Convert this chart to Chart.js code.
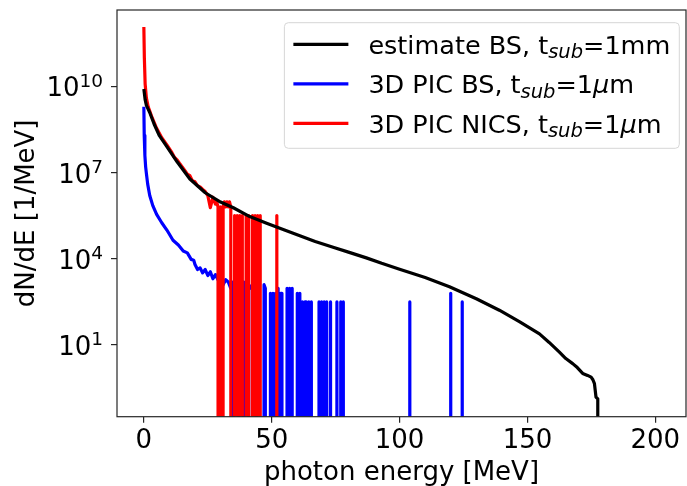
<!DOCTYPE html>
<html>
<head>
<meta charset="utf-8">
<script src="https://cdn.jsdelivr.net/npm/chart.js@4.4.0/dist/chart.umd.min.js"></script>
<style>
  html, body { margin: 0; padding: 0; background: #fff; }
</style>
</head>
<body>
<canvas id="chartCanvas" width="687" height="486"></canvas>
<script>
// values (dN/dE in 1/MeV, 0 = empty bin)
const xTicks = [0, 50, 100, 150, 200];
const yTicks = [1e1, 1e4, 1e7, 1e10];

const seriesLabels = [
  'estimate BS, t$_{sub}$=1mm',
  '3D PIC BS, t$_{sub}$=1$\\mu$m',
  '3D PIC NICS, t$_{sub}$=1$\\mu$m'
];
const seriesColors = ['#000000', '#0000ff', '#ff0000'];

const estE = [0, 0.5, 1, 2.3, 4, 6, 9, 13, 18, 24, 30, 35, 41.4, 48, 55, 61, 67, 74, 80, 87, 93, 100,
  110, 119.5, 130, 139, 147, 154.7, 158.5, 162.5, 165, 167.7, 169.5, 171.6, 173.5, 174.9, 175.6,
  176.2, 176.8, 177.5, 177.8];
const estN = [8.3e9, 3.55e9, 2.24e9, 1.26e9, 5.0e8, 2.0e8, 8.1e7, 2.4e7, 6.0e6, 2.0e6, 9.5e5, 6.0e5,
  2.95e5, 1.74e5, 1.0e5, 6.3e4, 4.0e4, 2.5e4, 1.7e4, 1.07e4, 6.9e3, 4.3e3,
  2.2e3, 1.05e3, 400, 160, 63, 24, 12, 5.5, 3.3, 2.2, 1.6, 1.0, 0.85, 0.74, 0.6,
  0.44, 0.15, 0.13, 0];

const bsE = [0, 0.15, 0.4, 0.7, 1, 1.5, 2.3, 3.5, 5, 7, 9, 11.4, 13.5, 15.4, 17, 18.5, 19.5,
  20, 21, 22, 23, 24, 25, 26, 27, 28, 29, 30, 31, 32, 33, 34, 35, 36, 37, 38, 39,
  40, 41, 42, 43, 44, 45, 46,
  46.5, 47, 47.5, 48, 48.5, 49, 49.5, 50, 50.5, 51,
  51.5, 52, 52.5, 53, 53.5, 54, 54.5, 55, 55.5, 56,
  56.5, 57, 57.5, 58, 58.5, 59, 59.5, 60, 60.5, 61,
  61.5, 62, 62.5, 63, 63.5, 64, 64.5, 65, 65.5, 66,
  66.5, 67, 67.5, 68, 68.5, 69, 69.5, 70, 70.5, 71,
  71.5, 72, 72.5, 73, 73.5, 74, 74.5, 75, 75.5, 76,
  76.5, 77, 77.5, 78, 78.5,
  103.5, 104, 104.5, 119.5, 120, 120.5, 124, 124.5, 125];
const bsN = [2.0e9, 2.0e8, 4.0e7, 1.6e7, 9.3e6, 4.0e6, 1.6e6, 7.1e5, 3.5e5, 1.8e5, 1.0e5, 4.4e4, 3.0e4, 1.86e4, 1.6e4, 9.5e3, 8.9e3,
  6.3e3, 4.2e3, 4.8e3, 3.2e3, 4.2e3, 2.6e3, 3.5e3, 2.0e3, 2.8e3, 1.86e3, 2.48e3, 1.24e3, 1.86e3, 1.55e3, 930, 1550, 0, 1240, 930, 1550,
  0, 1240, 930, 1240, 620, 0, 0,
  0, 1240, 930, 0, 0, 0, 620, 0, 620, 0,
  620, 0, 930, 0, 620, 620, 0, 0, 0, 930,
  0, 930, 0, 930, 0, 0, 0, 620, 0, 620,
  0, 310, 0, 310, 310, 0, 310, 0, 310, 0,
  0, 0, 0, 0, 310, 0, 310, 0, 310, 0,
  310, 0, 0, 310, 0, 0, 0, 0, 310, 0,
  0, 310, 0, 310, 0,
  0, 310, 0, 0, 620, 0, 0, 310, 0];

const nicsE = [0, 0.2, 0.5, 1, 1.7, 3, 4.9, 7, 9, 11, 12, 13, 14, 15, 16, 17, 18, 19,
  20, 21, 22, 23, 24, 25, 26, 27, 28,
  28.5, 29, 29.5, 30, 30.5, 31, 31.5, 32, 32.5, 33, 33.5, 34,
  34.5, 35, 35.5, 36, 36.5, 37, 37.5, 38, 38.5, 39, 39.5, 40,
  40.5, 41, 41.5, 42, 42.5, 43, 43.5, 44, 44.5, 45, 45.5, 46,
  51.5, 52, 52.5];
const nicsN = [1.2e12, 1.0e11, 1.26e10, 4.0e9, 2.0e9, 9.5e8, 3.7e8, 1.66e8, 9.3e7, 5.0e7, 3.4e7, 2.8e7, 2.1e7, 1.6e7, 1.2e7, 8.9e6, 7.9e6, 5.2e6,
  4.8e6, 3.5e6, 3.2e6, 2.6e6, 2.2e6, 1.6e6, 6.0e5, 1.4e6, 8.0e5,
  9.6e5, 6.4e5, 0, 6.4e5, 0, 6.4e5, 9.6e5, 6.4e5, 9.6e5, 6.4e5, 9.6e5, 6.4e5,
  0, 0, 3.2e5, 0, 3.2e5, 0, 3.2e5, 0, 3.2e5, 0, 0, 3.2e5,
  0, 3.2e5, 0, 0, 3.2e5, 0, 3.2e5, 0, 3.2e5, 0, 3.2e5, 0,
  0, 3.2e5, 0];

const FONT = '"DejaVu Sans", sans-serif';
const LOG_FLOOR = 1e-200; // empty bins drop far below the axis, as matplotlib clips them

function toPoints(es, ns) {
  return es.map((e, i) => ({ x: e, y: ns[i] > 0 ? ns[i] : LOG_FLOOR }));
}

// split a matplotlib-style label into plain / subscript / italic pieces
function labelPieces(label) {
  return label.split(/(\$[^$]*\$)/).filter(s => s).map(s => {
    if (s[0] !== '$') return { t: s };
    const inner = s.slice(1, -1);
    if (inner.startsWith('_{')) return { t: inner.slice(2, -1), sub: true };
    return { t: inner === '\\mu' ? 'μ' : inner, it: true };
  });
}

function pieceFont(p) {
  if (p.sub) return 'italic 19.5px ' + FONT;
  if (p.it) return 'italic 25.5px ' + FONT;
  return '25.5px ' + FONT;
}

const decorations = {
  id: 'decorations',
  afterDatasetsDraw(chart) {
    const { ctx, chartArea: a } = chart;
    ctx.save();
    // axes box
    ctx.strokeStyle = '#262626';
    ctx.lineWidth = 1.2;
    ctx.strokeRect(a.left, a.top, a.right - a.left, a.bottom - a.top);

    // y tick labels 10^n
    const ys = chart.scales.y;
    ctx.fillStyle = '#000';
    ctx.textBaseline = 'alphabetic';
    ctx.textAlign = 'left';
    ys.ticks.forEach(t => {
      const py = ys.getPixelForValue(t.value);
      const exp = String(Math.round(Math.log10(t.value)));
      ctx.font = '18.5px ' + FONT;
      const we = ctx.measureText(exp).width;
      ctx.font = '26px ' + FONT;
      const wb = ctx.measureText('10').width;
      const right = a.left - 14;
      ctx.fillText('10', right - we - wb, py + 9.8);
      ctx.font = '18.5px ' + FONT;
      ctx.fillText(exp, right - we, py + 0.5);
    });
    ctx.restore();
  },
  afterDraw(chart) {
    const { ctx, chartArea: a } = chart;
    ctx.save();
    const rows = seriesLabels.map(labelPieces);
    const widths = rows.map(r => r.reduce((w, p) => {
      ctx.font = pieceFont(p);
      return w + ctx.measureText(p.t).width;
    }, 0));
    const padL = 9, lineLen = 55, gap = 20, padR = 9;
    const boxW = padL + lineLen + gap + Math.max(...widths) + padR;
    const boxH = 125.6;
    const bx = a.right - 6.7 - boxW, by = a.top + 12.7;

    // frame
    const r = 4;
    ctx.beginPath();
    ctx.moveTo(bx + r, by);
    ctx.arcTo(bx + boxW, by, bx + boxW, by + boxH, r);
    ctx.arcTo(bx + boxW, by + boxH, bx, by + boxH, r);
    ctx.arcTo(bx, by + boxH, bx, by, r);
    ctx.arcTo(bx, by, bx + boxW, by, r);
    ctx.closePath();
    ctx.fillStyle = 'rgba(255,255,255,0.8)';
    ctx.fill();
    ctx.strokeStyle = '#d6d6d6';
    ctx.lineWidth = 1;
    ctx.stroke();

    rows.forEach((row, i) => {
      const ry = by + 21.6 + i * 39.5;
      ctx.strokeStyle = seriesColors[i];
      ctx.lineWidth = 3.2;
      ctx.beginPath();
      ctx.moveTo(bx + padL, ry);
      ctx.lineTo(bx + padL + lineLen, ry);
      ctx.stroke();

      let x = bx + padL + lineLen + gap;
      ctx.fillStyle = '#000';
      ctx.textBaseline = 'alphabetic';
      row.forEach(p => {
        ctx.font = pieceFont(p);
        ctx.fillText(p.t, x, ry + 9.5 + (p.sub ? 4.5 : 0));
        x += ctx.measureText(p.t).width;
      });
    });
    ctx.restore();
  }
};

const ctx = document.getElementById('chartCanvas').getContext('2d');
const lineSets = [[estE, estN], [bsE, bsN], [nicsE, nicsN]];
const drawOrder = [0, 2, 1]; // black on top, red over blue

new Chart(ctx, {
  type: 'line',
  data: {
    datasets: lineSets.map(([es, ns], i) => ({
      label: seriesLabels[i],
      data: toPoints(es, ns),
      borderColor: seriesColors[i],
      order: drawOrder[i],
      clip: 0
    }))
  },
  options: {
    responsive: false,
    animation: false,
    devicePixelRatio: 1,
    events: [],
    layout: { padding: { top: 10, right: 1, left: 0, bottom: 0 } },
    elements: {
      point: { radius: 0 },
      line: { borderWidth: 3.2, tension: 0, borderJoinStyle: 'round', fill: false }
    },
    plugins: { legend: { display: false }, tooltip: { enabled: false } },
    scales: {
      x: {
        type: 'linear',
        min: -10.5,
        max: 212,
        afterBuildTicks: s => { s.ticks = xTicks.map(v => ({ value: v })); },
        afterFit: s => { s.height = 69.3; },
        grid: { drawOnChartArea: false, tickLength: 6, color: '#262626', lineWidth: 1.2 },
        border: { display: false },
        ticks: { font: { family: FONT, size: 26 }, color: '#000', padding: 3, maxRotation: 0, autoSkip: false },
        title: { display: true, text: 'photon energy [MeV]', font: { family: FONT, size: 26 }, color: '#000', padding: { top: 0, bottom: -3 } }
      },
      y: {
        type: 'logarithmic',
        min: 0.0309,
        max: 4.73e12,
        afterBuildTicks: s => { s.ticks = yTicks.map(v => ({ value: v })); },
        afterFit: s => { s.width = 117; },
        grid: { drawOnChartArea: false, tickLength: 6, color: '#262626', lineWidth: 1.2 },
        border: { display: false },
        ticks: { display: false },
        title: { display: true, text: 'dN/dE [1/MeV]', font: { family: FONT, size: 26 }, color: '#000', padding: { top: 12, bottom: 0 } }
      }
    }
  },
  plugins: [decorations]
});
</script>
</body>
</html>
